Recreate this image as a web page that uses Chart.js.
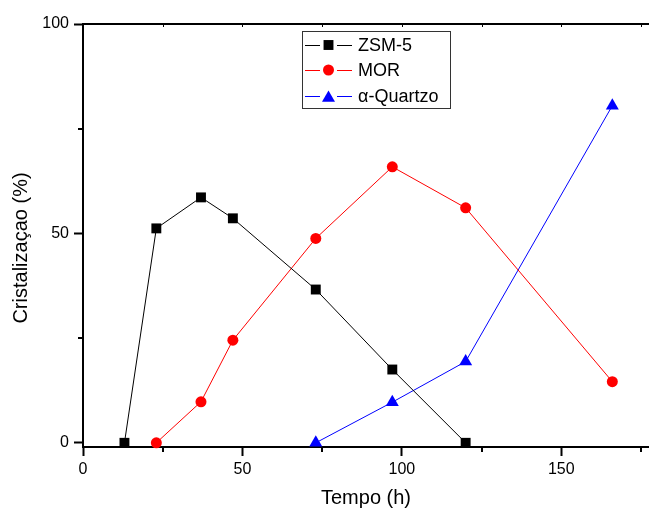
<!DOCTYPE html>
<html>
<head>
<meta charset="utf-8">
<script src="https://cdn.jsdelivr.net/npm/chart.js@4.4.0/dist/chart.umd.min.js"></script>
<style>
html, body { margin: 0; padding: 0; background: #fff; }
#wrap { width: 649px; height: 510px; }
</style>
</head>
<body>
<div id="wrap"><canvas id="cryst"></canvas></div>
<script>
var seriesNames = ['ZSM-5', 'MOR', '\u03b1-Quartzo'];
var zsmTime = [13, 23, 37, 47, 73, 97, 120];
var zsmValues = [0, 51.2, 58.6, 53.6, 36.6, 17.5, 0];
var morTime = [23, 37, 47, 73, 97, 120, 166];
var morValues = [0, 9.8, 24.5, 48.8, 65.9, 56.1, 14.6];
var quartzTime = [73, 97, 120, 166];
var quartzValues = [0, 9.7, 19.4, 80.5];
var xTicks = [0, 25, 50, 75, 100, 125, 150, 175];
var yTicks = [0, 25, 50, 75, 100];

var colors = ['#000000', '#ff0000', '#0000ff'];
var markers = ['rect', 'circle', 'triangle'];
var markerSizes = [7, 5.5, 7.5];
var FONT = "'Liberation Sans', Arial, sans-serif";

function pairs(xs, ys) {
    return xs.map(function (x, i) { return { x: x, y: ys[i] }; });
}

var allData = [pairs(zsmTime, zsmValues), pairs(morTime, morValues), pairs(quartzTime, quartzValues)];

var datasets = allData.map(function (d, i) {
    return {
        label: seriesNames[i],
        data: d,
        showLine: true,
        borderColor: colors[i],
        borderWidth: 1,
        backgroundColor: colors[i],
        pointStyle: markers[i],
        pointRadius: markerSizes[i],
        pointHoverRadius: markerSizes[i],
        pointBorderWidth: 0,
        tension: 0,
        clip: false
    };
});

function isMajor(v) { return v % 50 === 0; }

// minor ticks, top frame line, y title and the legend box
var extras = {
    id: 'extras',
    afterDraw: function (chart) {
        var ctx = chart.ctx, a = chart.chartArea;
        var xs = chart.scales.x, ys = chart.scales.y;
        ctx.save();
        ctx.strokeStyle = '#000';
        ctx.lineWidth = 2;
        xTicks.forEach(function (v) {
            if (isMajor(v)) return;
            var px = Math.round(xs.getPixelForValue(v));
            ctx.beginPath(); ctx.moveTo(px, a.bottom); ctx.lineTo(px, a.bottom + 5); ctx.stroke();
        });
        yTicks.forEach(function (v) {
            if (isMajor(v)) return;
            var py = Math.round(ys.getPixelForValue(v));
            ctx.beginPath(); ctx.moveTo(a.left - 5, py); ctx.lineTo(a.left, py); ctx.stroke();
        });
        // top line
        ctx.beginPath(); ctx.moveTo(a.left, a.top); ctx.lineTo(a.right, a.top); ctx.stroke();
        ctx.lineWidth = 1;
        xTicks.forEach(function (v) {
            if (v === 0) return;
            var px = Math.round(xs.getPixelForValue(v)) + 0.5;
            ctx.beginPath(); ctx.moveTo(px, a.top); ctx.lineTo(px, a.top + 3); ctx.stroke();
        });

        // y title
        ctx.fillStyle = '#000';
        ctx.font = '20px ' + FONT;
        ctx.textAlign = 'center';
        ctx.textBaseline = 'middle';
        ctx.save();
        ctx.translate(21, 248);
        ctx.rotate(-Math.PI / 2);
        ctx.fillText('Cristaliza\u00e7ao (%)', 0, 0);
        ctx.restore();

        // legend
        ctx.lineWidth = 1;
        ctx.strokeStyle = '#333';
        ctx.strokeRect(302.5, 31.5, 148, 77);
        var rows = [45, 70, 96];
        ctx.font = '18px ' + FONT;
        ctx.textAlign = 'left';
        ctx.textBaseline = 'middle';
        rows.forEach(function (ry, i) {
            ctx.strokeStyle = colors[i];
            ctx.fillStyle = colors[i];
            ctx.beginPath();
            ctx.moveTo(305, ry + 0.5); ctx.lineTo(320, ry + 0.5);
            ctx.moveTo(337, ry + 0.5); ctx.lineTo(352, ry + 0.5);
            ctx.stroke();
            Chart.helpers.drawPoint(ctx, {
                pointStyle: markers[i], radius: markerSizes[i], rotation: 0, borderWidth: 0
            }, 328.5, ry + (i === 2 ? 2 : 0));
            ctx.fillStyle = '#000';
            ctx.fillText(seriesNames[i], 358, ry + 1);
        });
        ctx.restore();
    }
};

new Chart('cryst', {
    type: 'scatter',
    data: { datasets: datasets },
    options: {
        responsive: true,
        maintainAspectRatio: false,
        animation: false,
        devicePixelRatio: 1,
        layout: { autoPadding: false, padding: { top: 24, right: 0, bottom: 0, left: 0 } },
        plugins: { legend: { display: false }, tooltip: { enabled: false } },
        scales: {
            x: {
                type: 'linear',
                min: 0,
                max: 177.5,
                afterBuildTicks: function (s) { s.ticks = xTicks.map(function (v) { return { value: v }; }); },
                afterFit: function (s) { s.height = 63; s.paddingLeft = 0; s.paddingRight = 0; },
                border: { color: '#000', width: 2 },
                grid: {
                    drawOnChartArea: false,
                    tickLength: 9,
                    tickWidth: 2,
                    tickColor: function (c) { return isMajor(c.tick.value) ? '#000' : 'rgba(0,0,0,0)'; }
                },
                ticks: {
                    color: '#000',
                    padding: 4,
                    maxRotation: 0,
                    autoSkip: false,
                    font: { family: FONT, size: 16 },
                    callback: function (v) { return isMajor(v) ? v : ''; }
                },
                title: {
                    display: true,
                    text: 'Tempo (h)',
                    color: '#000',
                    font: { family: FONT, size: 20 },
                    padding: { top: 0, bottom: 0 }
                }
            },
            y: {
                type: 'linear',
                min: -1,
                max: 100,
                afterBuildTicks: function (s) { s.ticks = yTicks.map(function (v) { return { value: v }; }); },
                afterFit: function (s) { s.width = 83; s.paddingTop = 0; s.paddingBottom = 0; },
                border: { color: '#000', width: 2 },
                grid: {
                    drawOnChartArea: false,
                    tickLength: 9,
                    tickWidth: 2,
                    tickColor: function (c) { return isMajor(c.tick.value) ? '#000' : 'rgba(0,0,0,0)'; }
                },
                ticks: {
                    color: '#000',
                    padding: 5,
                    autoSkip: false,
                    font: { family: FONT, size: 16 },
                    callback: function (v) { return isMajor(v) ? v : ''; }
                }
            }
        }
    },
    plugins: [extras]
});
</script>
</body>
</html>
